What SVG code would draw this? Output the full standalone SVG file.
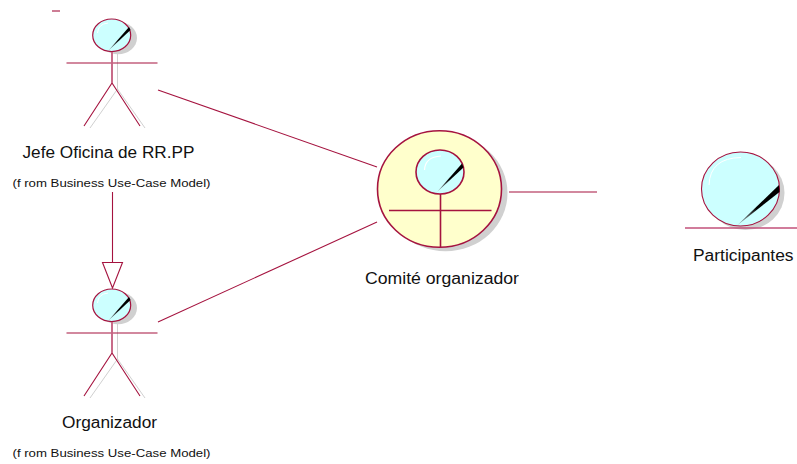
<svg xmlns="http://www.w3.org/2000/svg" width="797" height="464" viewBox="0 0 797 464">
<defs>
<linearGradient id="nd" x1="0" y1="1" x2="1" y2="0"><stop offset="0" stop-color="#b0c8c8"/><stop offset="0.45" stop-color="#000"/><stop offset="1" stop-color="#000"/></linearGradient>
<g id="actor">
<ellipse cx="118" cy="38" rx="19" ry="16.3" fill="#d0d0d0"/>
<path d="M117.500 52V89M117.500 89L90 128M117.500 89L145 128" fill="none" stroke="#d0d0d0" stroke-width="1"/>
<ellipse cx="111.700" cy="35.300" rx="19" ry="16.300" fill="#ccffff" stroke="#a5133f" stroke-width="1.200"/>
<path d="M97.500 33Q98 24 108 23" fill="none" stroke="#fff" stroke-width="1"/>
<polygon points="108,51 129,27 130.500,30" fill="url(#nd)"/>
<path d="M112 52V83M84 126L112 83L140 126M66.500 63H157.500" fill="none" stroke="#a5133f" stroke-width="1.100"/>
<path d="M112 52V83" fill="none" stroke="#c86a88" stroke-width="1.800"/>
</g>
</defs>
<style>
.c{fill:none;stroke:#a5133f;stroke-width:1.100}
.t{font-family:"Liberation Sans",Arial,sans-serif;fill:#111;text-anchor:start}
.l{font-size:16px}
.s{font-size:11px}
</style>
<g id="connectors">
<path class="c" d="M158 90L377 167"/>
<path class="c" d="M158 322L377 222"/>
<path class="c" d="M509 192H597"/>
<path class="c" d="M112.500 192V262.500"/>
<polygon class="c" points="102.500,262.500 122.500,262.500 112.500,288"/>
</g>
<g id="mark"><path class="c" d="M52 11H60"/></g>
<g id="jefe">
<use href="#actor"/>
<text class="t l" x="22.500" y="158" textLength="172" lengthAdjust="spacingAndGlyphs">Jefe Oficina de RR.PP</text>
<text class="t s" x="12.500" y="187" textLength="198" lengthAdjust="spacingAndGlyphs">(f rom Business Use-Case Model)</text>
</g>
<g id="organizador">
<use href="#actor" y="270"/>
<text class="t l" x="62" y="428" textLength="95" lengthAdjust="spacingAndGlyphs">Organizador</text>
<text class="t s" x="12.500" y="457" textLength="198" lengthAdjust="spacingAndGlyphs">(f rom Business Use-Case Model)</text>
</g>
<g id="comite">
<ellipse cx="445.500" cy="193" rx="62" ry="58.300" fill="#d0d0d0"/>
<ellipse cx="439.500" cy="189" rx="62" ry="58.300" fill="#ffffcc" stroke="#a5133f" stroke-width="1.600"/>
<ellipse cx="440" cy="172" rx="24" ry="22" fill="#ccffff" stroke="#a5133f" stroke-width="1.600"/>
<path d="M424.500 170Q425 157 441 156" fill="none" stroke="#fff" stroke-width="1.200"/>
<polygon points="437,192 462,163.500 463.500,167.500" fill="url(#nd)"/>
<path d="M440.500 194V247M389 210.500H491.500" fill="none" stroke="#a5133f" stroke-width="1.600"/>
<text class="t l" x="365" y="283.500" textLength="154" lengthAdjust="spacingAndGlyphs">Comité organizador</text>
</g>
<g id="participantes">
<ellipse cx="745.500" cy="193" rx="39" ry="37" fill="#d0d0d0"/>
<ellipse cx="740.500" cy="189" rx="39" ry="37" fill="#ccffff" stroke="#a5133f" stroke-width="1.100"/>
<path d="M709 185Q710 158 741 157.500" fill="none" stroke="#fff" stroke-width="1"/>
<polygon points="737,225.500 779,185 779.500,192" fill="url(#nd)"/>
<path d="M685 228H797" fill="none" stroke="#c2517a" stroke-width="1.400"/>
<text class="t l" x="693" y="261" textLength="100.500" lengthAdjust="spacingAndGlyphs">Participantes</text>
</g>
</svg>
